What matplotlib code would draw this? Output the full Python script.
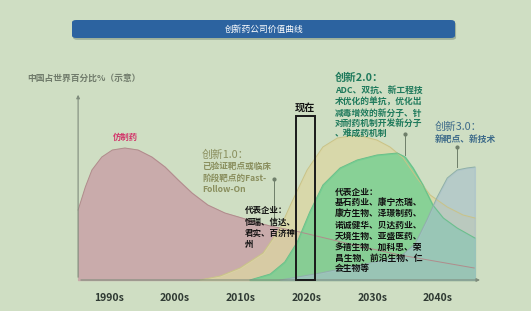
import matplotlib
matplotlib.use("Agg")
import matplotlib.pyplot as plt
from matplotlib.patches import FancyBboxPatch, Rectangle

plt.rcParams['font.family'] = ['Noto Sans CJK SC', 'DejaVu Sans']

# data (year, share value in chart units)
decades = [1990, 2000, 2010, 2020, 2030, 2040]
decade_labels = ["1990s", "2000s", "2010s", "2020s", "2030s", "2040s"]

generic_x = [1985.3, 1986.4, 1987.4, 1988.9, 1990.5, 1992.4, 1994.4, 1996.5,
             1998.5, 2000.5, 2002.6, 2005.0, 2007.6, 2010.2, 2012.2, 2014.5,
             2019.0, 2026.6, 2034.2, 2045.5]
generic_y = [35, 46.5, 55, 61.5, 65, 66, 65, 61.5, 56.5, 50, 43.5, 37.5, 33.5,
             31, 29, 27, 24, 18, 12.5, 6]

inno1_x = [2003.8, 2006.9, 2009.9, 2013.4, 2016.0, 2017.5, 2020.1, 2022.5, 2024.7,
           2027.7, 2030.7, 2032.7, 2034.7, 2036.8, 2038.8, 2041.4, 2043.8, 2045.6]
inno1_y = [0, 2, 6, 13.5, 26, 37, 55, 66.5, 71, 72.5, 70, 66.5, 61, 51, 42.5,
           36.5, 32.5, 31]

inno2_x = [2011.4, 2014.5, 2016.7, 2018.6, 2020.5, 2022.5, 2025.1, 2027.7, 2030.7,
           2033.8, 2035.0, 2036.2, 2037.7, 2039.2, 2040.8, 2042.9, 2045.6]
inno2_y = [0, 3, 9, 19, 34, 47.5, 56, 60, 62.5, 63.5, 61.5, 56, 47.5, 37.5, 31,
           26, 21]

inno3_x = [2016.0, 2022.1, 2028.1, 2034.2, 2036.5, 2038.3, 2039.8, 2041.4,
           2042.9, 2044.4, 2045.6]
inno3_y = [0, 3.5, 7.5, 11.5, 18, 30, 41, 51, 55, 56, 56.5]

now_span = (2018.4, 2021.3)
now_height = 82

bg = '#cfdec3'
fig = plt.figure(figsize=(5.31, 3.11), dpi=100, facecolor=bg)
ax = fig.add_axes([0, 0, 1, 1])
ax.set_facecolor(bg)
ax.set_xlim(1973.43, 2054.13)
ax.set_ylim(-15.5, 140)
ax.axis('off')


def fp(x, y):
    # pixel position -> figure fraction
    return x / 531, 1 - y / 311


# curves
ax.fill_between(generic_x, 0, generic_y, color='#c9abab', zorder=2)
ax.plot(generic_x, generic_y, color='#b08c8c', lw=0.7, zorder=6)
ax.fill_between(inno1_x, 0, inno1_y, color='#dcd7a2', alpha=0.75, zorder=3)
ax.plot(inno1_x, inno1_y, color='#c9c388', lw=0.7, zorder=6)
ax.fill_between(inno2_x, 0, inno2_y, color='#66cf8e', alpha=0.7, zorder=4)
ax.plot(inno2_x, inno2_y, color='#6bbf8a', lw=0.7, zorder=6)
ax.fill_between(inno3_x, 0, inno3_y, color='#a6bfcc', alpha=0.6, zorder=5)
ax.plot(inno3_x, inno3_y, color='#8fb0a8', lw=0.7, zorder=6)

# axes with arrows
axis_c = '#7f8c7c'
ax.annotate('', xy=(1985.3, 94), xytext=(1985.3, 0),
            arrowprops=dict(arrowstyle='-|>', color=axis_c, lw=0.8,
                            mutation_scale=5), zorder=7)
ax.annotate('', xy=(2046.8, 0), xytext=(1985.3, 0),
            arrowprops=dict(arrowstyle='-|>', color=axis_c, lw=0.8,
                            mutation_scale=5), zorder=7)

# "now" box
ax.add_patch(Rectangle((now_span[0], 0), now_span[1] - now_span[0], now_height,
                       fill=False, edgecolor='#1a1a1a', lw=1.4, zorder=8))

for d, lab in zip(decades, decade_labels):
    ax.text(d, -9, lab, ha='center', va='center', fontsize=7.5,
            fontweight='bold', color='#2f3a33')

# leader lines
for x, y0, y1 in [(2015.1, 50.5, 29), (2035.0, 73, 62.5), (2042.9, 66.5, 56.5)]:
    ax.plot([x, x], [y0, y1], color='#6f7f6a', lw=0.7, zorder=9)
    ax.plot([x], [y0], 'o', color='#6f7f6a', ms=2, zorder=9)

# title bar
x0, y0 = fp(72, 38)
x1, y1 = fp(455, 20)
fig.patches.append(FancyBboxPatch((x0 + 0.002, y0 - 0.006), x1 - x0, y1 - y0,
                                  boxstyle='round,pad=0,rounding_size=0.008',
                                  transform=fig.transFigure, facecolor='#9fb19a',
                                  edgecolor='none', zorder=1))
fig.patches.append(FancyBboxPatch((x0, y0), x1 - x0, y1 - y0,
                                  boxstyle='round,pad=0,rounding_size=0.008',
                                  transform=fig.transFigure, facecolor='#2c63a0',
                                  edgecolor='none', zorder=2))
fig.text(*fp(264, 29), '创新药公司价值曲线', ha='center', va='center',
         fontsize=6.3, color='white', zorder=3)

fig.text(*fp(27, 78), '中国占世界百分比%（示意）', ha='left', va='center',
         fontsize=6.3, fontweight='bold', color='#707b6b')

fig.text(*fp(125, 137), '仿制药', ha='center', va='center', fontsize=6,
         fontweight='bold', color='#d2356a')

olive = '#8a8f5e'
fig.text(*fp(202, 155), '创新1.0：', ha='left', va='center', fontsize=7.8,
         color=olive)
for y, s in zip([166, 178, 189], ['已验证靶点或临床', '阶段靶点的Fast-', 'Follow-On']):
    fig.text(*fp(202, y), s, ha='left', va='center', fontsize=6.2,
             fontweight='bold', color=olive)

for y, s in zip([211, 222, 233, 244], ['代表企业：', '恒瑞、信达、', '君实、百济神', '州']):
    fig.text(*fp(245, y), s, ha='left', va='center', fontsize=6.1,
             fontweight='bold', color='#111111', zorder=10)

fig.text(*fp(305, 108), '现在', ha='center', va='center', fontsize=7.3,
         fontweight='bold', color='#111111')

teal = '#1f7a5c'
fig.text(*fp(335, 78), '创新2.0：', ha='left', va='center', fontsize=7.8,
         fontweight='bold', color=teal)
for y, s in zip([90, 102, 113, 123, 134],
                ['ADC、双抗、新工程技', '术优化的单抗，优化出', '减毒增效的新分子、针',
                 '对耐药机制开发新分子', '、难成药机制']):
    fig.text(*fp(335, y), s, ha='left', va='center', fontsize=6.3,
             fontweight='bold', color=teal)

steel = '#3e6b8a'
fig.text(*fp(435, 127), '创新3.0：', ha='left', va='center', fontsize=7.8,
         color=steel)
fig.text(*fp(435, 139), '新靶点、新技术', ha='left', va='center', fontsize=6.3,
         fontweight='bold', color=steel)

reps = ['代表企业：', '基石药业、康宁杰瑞、', '康方生物、泽璟制药、', '诺诚健华、贝达药业、',
        '天境生物、亚盛医药、', '多禧生物、加科思、荣', '昌生物、前沿生物、仁', '会生物等']
for i, s in enumerate(reps):
    fig.text(*fp(335, 192 + 11 * i), s, ha='left', va='center', fontsize=6.3,
             fontweight='bold', color='#111111', zorder=10)

fig.savefig('out.png', dpi=100, facecolor=bg)
